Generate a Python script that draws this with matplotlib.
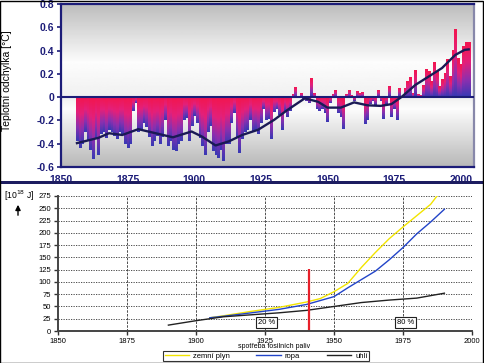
import numpy as np
import matplotlib
matplotlib.use('Agg')
import matplotlib.pyplot as plt
from matplotlib.colors import LinearSegmentedColormap
from matplotlib.patches import Rectangle, FancyArrowPatch

# Teplotni odchylky (rocni), 1856-2003
rok_start = 1856
odchylky = [
    -0.38, -0.44, -0.40, -0.30, -0.38, -0.45, -0.53, -0.36, -0.50, -0.32,
    -0.30, -0.35, -0.28, -0.30, -0.33, -0.36, -0.30, -0.32, -0.40, -0.44,
    -0.40, -0.12, -0.05, -0.30, -0.28, -0.22, -0.26, -0.34, -0.42, -0.38,
    -0.33, -0.40, -0.34, -0.20, -0.42, -0.38, -0.45, -0.46, -0.40, -0.38,
    -0.20, -0.18, -0.38, -0.25, -0.16, -0.22, -0.35, -0.42, -0.50, -0.30,
    -0.25, -0.46, -0.50, -0.52, -0.45, -0.55, -0.40, -0.40, -0.22, -0.14,
    -0.35, -0.48, -0.36, -0.30, -0.28, -0.20, -0.30, -0.28, -0.32, -0.22,
    -0.10, -0.20, -0.19, -0.36, -0.13, -0.10, -0.15, -0.28, -0.12, -0.17,
    -0.12, 0.02, 0.08, -0.01, 0.03, -0.02, -0.03, -0.05, 0.16, 0.03,
    -0.10, -0.12, -0.10, -0.14, -0.21, -0.05, 0.02, 0.06, -0.14, -0.17,
    -0.27, 0.02, 0.06, 0.01, -0.03, 0.05, 0.03, 0.04, -0.23, -0.20,
    -0.06, -0.03, -0.07, 0.06, -0.03, -0.19, -0.06, 0.09, -0.17, -0.10,
    -0.20, 0.07, -0.01, 0.07, 0.13, 0.17, 0.03, 0.23, 0.02, 0.01,
    0.10, 0.24, 0.22, 0.13, 0.30, 0.22, 0.09, 0.15, 0.20, 0.32,
    0.18, 0.40, 0.58, 0.33, 0.28, 0.43, 0.47, 0.47,
]
roky = np.arange(rok_start, rok_start + len(odchylky))

# vyhlazeny prubeh
hlad_roky = [1856, 1864, 1868, 1873, 1879, 1885.5, 1892, 1899, 1903, 1908,
             1913, 1918, 1924, 1930, 1935, 1941.5, 1946.5, 1950, 1955, 1960,
             1965, 1970, 1974, 1978, 1983, 1988, 1993, 1998, 2001.5, 2003]
hlad_hodn = [-0.395, -0.35, -0.31, -0.325, -0.275, -0.31, -0.345, -0.295, -0.34, -0.415,
             -0.38, -0.325, -0.28, -0.195, -0.11, -0.01, -0.04, -0.09, -0.09, -0.045,
             -0.07, -0.075, -0.06, 0.005, 0.105, 0.177, 0.25, 0.363, 0.406, 0.41]

# spotreba fosilnich paliv [10^18 J]
uhli_roky = [1890, 1900, 1910, 1920, 1930, 1940, 1950, 1960, 1970, 1980, 1990]
uhli = [12, 21, 29, 33, 37, 42, 50, 58, 63, 67, 77]
ropa_roky = [1905, 1910, 1920, 1930, 1940, 1950, 1955, 1960, 1965, 1970, 1975, 1980, 1985, 1990]
ropa = [27, 30, 37, 44, 54, 70, 88, 105, 122, 145, 170, 198, 222, 248]
plyn_roky = [1905, 1910, 1920, 1930, 1940, 1945, 1950, 1955, 1960, 1965, 1970, 1975, 1980, 1985, 1988]
plyn = [27, 31, 40, 48, 59, 66, 80, 97, 130, 160, 188, 212, 235, 258, 280]

navy = '#1c1c78'
plt.rcParams['font.family'] = ['Liberation Sans', 'DejaVu Sans']

fig = plt.figure(figsize=(4.84, 3.63), dpi=100, facecolor='white')

# ---------- horni graf ----------
ax1 = fig.add_axes([61 / 484, 1 - 167 / 363, 413 / 484, 163 / 363])
xlim1 = (1850, 2005)
ylim1 = (-0.6, 0.8)

# pozadi s prechodem
yy = np.linspace(0.8, -0.6, 200)
shade = np.interp(yy, [-0.6, -0.1, 0.0, 0.3, 0.8], [0.72, 0.99, 0.94, 0.99, 0.74])
ax1.imshow(shade.reshape(-1, 1), cmap='gray', vmin=0, vmax=1, aspect='auto',
           extent=[xlim1[0], xlim1[1], ylim1[0], ylim1[1]], zorder=0, interpolation='bilinear')

cmap = LinearSegmentedColormap.from_list(
    'rb', [(0, '#f21650'), (0.35, '#e4207a'), (0.7, '#8a30b0'), (1, '#3a38b4')])
grad = np.linspace(0, 1, 32).reshape(-1, 1)
w = 0.78
for r, v in zip(roky, odchylky):
    ax1.imshow(grad, cmap=cmap, aspect='auto', interpolation='bilinear',
               extent=[r - w / 2, r + w / 2, min(0, v), max(0, v)], zorder=2)

ax1.axhline(0, color=navy, lw=1.5, zorder=3)
ax1.plot(hlad_roky, hlad_hodn, color='#1a1a55', lw=1.7, zorder=4, solid_joinstyle='round')

ax1.set_xlim(*xlim1)
ax1.set_ylim(*ylim1)
ax1.set_xticks([1850, 1875, 1900, 1925, 1950, 1975, 2000])
ax1.set_yticks([-0.6, -0.4, -0.2, 0, 0.2, 0.4, 0.6, 0.8])
ax1.set_yticklabels(['-0.6', '-0.4', '-0.2', '0', '0.2', '0.4', '0.6', '0.8'])
ax1.tick_params(axis='x', length=0, pad=6)
ax1.tick_params(axis='y', length=3, width=1.2, color=navy, pad=2)
for lab in ax1.get_xticklabels() + ax1.get_yticklabels():
    lab.set_fontsize(7.5)
    lab.set_fontweight('bold')
    lab.set_color(navy)
for s in ax1.spines.values():
    s.set_color(navy)
    s.set_linewidth(1.6)
ax1.spines['right'].set_color('#8888aa')
ax1.set_ylabel('Teplotní odchylka [°C]', fontsize=7.5)
ax1.yaxis.set_label_coords(-0.118, 0.53)

# oddelovac
fig.patches.append(Rectangle((0, 1 - 184 / 363), 1, 3 / 363, transform=fig.transFigure,
                             facecolor='#1c1c60', edgecolor='none'))

# ---------- dolni graf ----------
ax2 = fig.add_axes([58 / 484, 1 - 331 / 363, 414 / 484, 135 / 363])
l_plyn, = ax2.plot(plyn_roky, plyn, color='#f2e400', lw=1.0, label='zemní plyn')
l_ropa, = ax2.plot(ropa_roky, ropa, color='#2244c8', lw=1.0, label='ropa')
l_uhli, = ax2.plot(uhli_roky, uhli, color='#222222', lw=1.0, label='uhlí')
ax2.plot([1941, 1941], [0, 127], color='#e8202a', lw=1.6, solid_capstyle='butt')

ax2.set_xlim(1850, 2000)
ax2.set_ylim(0, 275)
ax2.set_xticks([1850, 1875, 1900, 1925, 1950, 1975, 2000])
ax2.set_yticks(np.arange(0, 276, 25))
ax2.yaxis.grid(True, linestyle=(0, (1.5, 1.5)), color='#333333', lw=0.6)
for gx in [1875, 1900, 1925, 1950, 1975]:
    ax2.axvline(gx, color='#333333', lw=0.6, linestyle=(0, (3, 1.5)), zorder=0)
ax2.set_axisbelow(True)
ax2.tick_params(labelsize=5.5, length=3, width=1, color='#333333', pad=2)
ax2.spines['top'].set_visible(False)
ax2.spines['right'].set_visible(False)
for s in ['left', 'bottom']:
    ax2.spines[s].set_color('#444444')
    ax2.spines[s].set_linewidth(1.4)

box = dict(boxstyle='square,pad=0.25', facecolor='white', edgecolor='#222222', lw=0.8)
ax2.text(1925.7, 17, '20 %', fontsize=5.5, ha='center', va='center', bbox=box)
ax2.text(1976, 17, '80 %', fontsize=5.5, ha='center', va='center', bbox=box)

fig.text(274 / 484, 1 - 347 / 363, 'spotřeba fosilních paliv', fontsize=5,
         ha='center', va='center')
fig.text(4 / 484, 1 - 196 / 363, '[10$^{18}$ J]', fontsize=6.2, ha='left', va='center')
fig.add_artist(FancyArrowPatch(
    (18 / 484, 1 - 218 / 363), (18 / 484, 1 - 202 / 363), transform=fig.transFigure,
    arrowstyle='-|>,head_length=3,head_width=1.5', color='black', lw=1))

leg = fig.legend(handles=[l_plyn, l_ropa, l_uhli], loc='center', ncol=3,
                 bbox_to_anchor=(266 / 484, 1 - 356 / 363), fontsize=5.5,
                 frameon=True, fancybox=False, handlelength=3.2, columnspacing=3.5,
                 borderpad=0.2, handletextpad=0.5)
leg.get_frame().set_edgecolor('black')
leg.get_frame().set_linewidth(0.8)

# ramecek kolem obrazku
fig.patches.append(Rectangle((0.001, 0.001), 0.997, 0.997, transform=fig.transFigure,
                             facecolor='none', edgecolor='black', lw=1))

fig.savefig('out.png', dpi=100, facecolor='white')
